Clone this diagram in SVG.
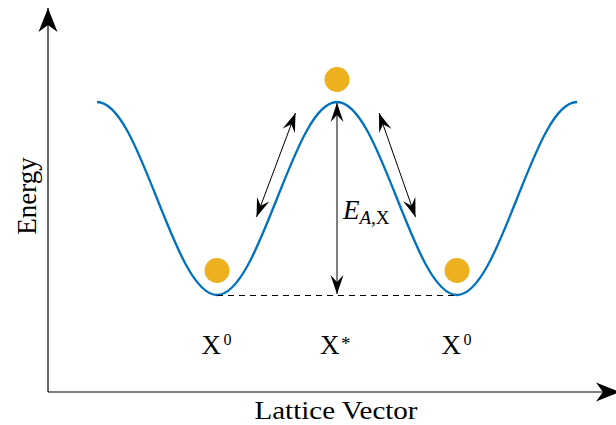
<svg xmlns="http://www.w3.org/2000/svg" width="616" height="425" viewBox="0 0 616 425">
<style>
.lbl{font-family:"Liberation Serif","Times New Roman",serif;fill:#000}
.ax{stroke:#000;stroke-width:1.2;fill:none}
.ar{stroke:#000;stroke-width:1;fill:none}
.ball{fill:#EDB120}
</style>
<defs>
<marker id="big" markerUnits="userSpaceOnUse" orient="auto-start-reverse" refX="0" refY="0" markerWidth="30" markerHeight="30" overflow="visible">
<path d="M0,0 L-24,-9.5 L-17,0 L-24,9.5 z" fill="#000"/>
</marker>
<marker id="sm" markerUnits="userSpaceOnUse" orient="auto-start-reverse" refX="0" refY="0" markerWidth="20" markerHeight="20" overflow="visible">
<path d="M0,0 L-19,-6.5 L-12,0 L-19,6.5 z" fill="#000"/>
</marker>
</defs>
<rect width="616" height="425" fill="#fff"/>
<g id="axes">
<line class="ax" x1="48" y1="392" x2="48" y2="8" marker-end="url(#big)"/>
<line class="ax" x1="48" y1="392" x2="620" y2="392" marker-end="url(#big)"/>
</g>
<g id="curve">
<path d="M97,102 C118.71,102 137.43,149.06 157,198.5 S195.29,295 217,295 S257.43,247.94 277,198.5 S315.29,102 337,102 S377.43,149.06 397,198.5 S435.29,295 457,295 S497.43,247.94 517,198.5 S555.29,102 577,102" fill="none" stroke="#0072BD" stroke-width="2.3"/>
</g>
<g id="connectors">
<line x1="217" y1="295.5" x2="457" y2="295.5" stroke="#000" stroke-width="1" stroke-dasharray="6 5"/>
<line class="ar" x1="337" y1="103" x2="337" y2="294" marker-start="url(#sm)" marker-end="url(#sm)"/>
<line class="ar" x1="256.5" y1="217" x2="295.5" y2="113" marker-start="url(#sm)" marker-end="url(#sm)"/>
<line class="ar" x1="379" y1="113" x2="415.5" y2="217" marker-start="url(#sm)" marker-end="url(#sm)"/>
</g>
<g id="ball-left"><circle class="ball" cx="217" cy="270.5" r="12.5"/></g>
<g id="ball-top"><circle class="ball" cx="337" cy="79.5" r="12.5"/></g>
<g id="ball-right"><circle class="ball" cx="457" cy="270.5" r="12.5"/></g>
<g id="label-ea">
<text class="lbl" x="343" y="219" font-size="27" font-style="italic">E</text>
<text class="lbl" x="359.5" y="224" font-size="19"><tspan font-style="italic">A</tspan>,X</text>
</g>
<g id="label-x0-left">
<text class="lbl" x="201.5" y="354" font-size="27">X</text>
<text class="lbl" x="223.5" y="345" font-size="16">0</text>
</g>
<g id="label-xstar">
<text class="lbl" x="320" y="354" font-size="27">X</text>
<text class="lbl" x="341" y="350" font-size="19">*</text>
</g>
<g id="label-x0-right">
<text class="lbl" x="441.5" y="354" font-size="27">X</text>
<text class="lbl" x="463.5" y="345" font-size="16">0</text>
</g>
<g id="axis-labels">
<text class="lbl" x="336" y="419" font-size="26" text-anchor="middle" textLength="163" lengthAdjust="spacingAndGlyphs">Lattice Vector</text>
<text class="lbl" x="36" y="196" font-size="27" text-anchor="middle" transform="rotate(-90 36 196)">Energy</text>
</g>
</svg>
